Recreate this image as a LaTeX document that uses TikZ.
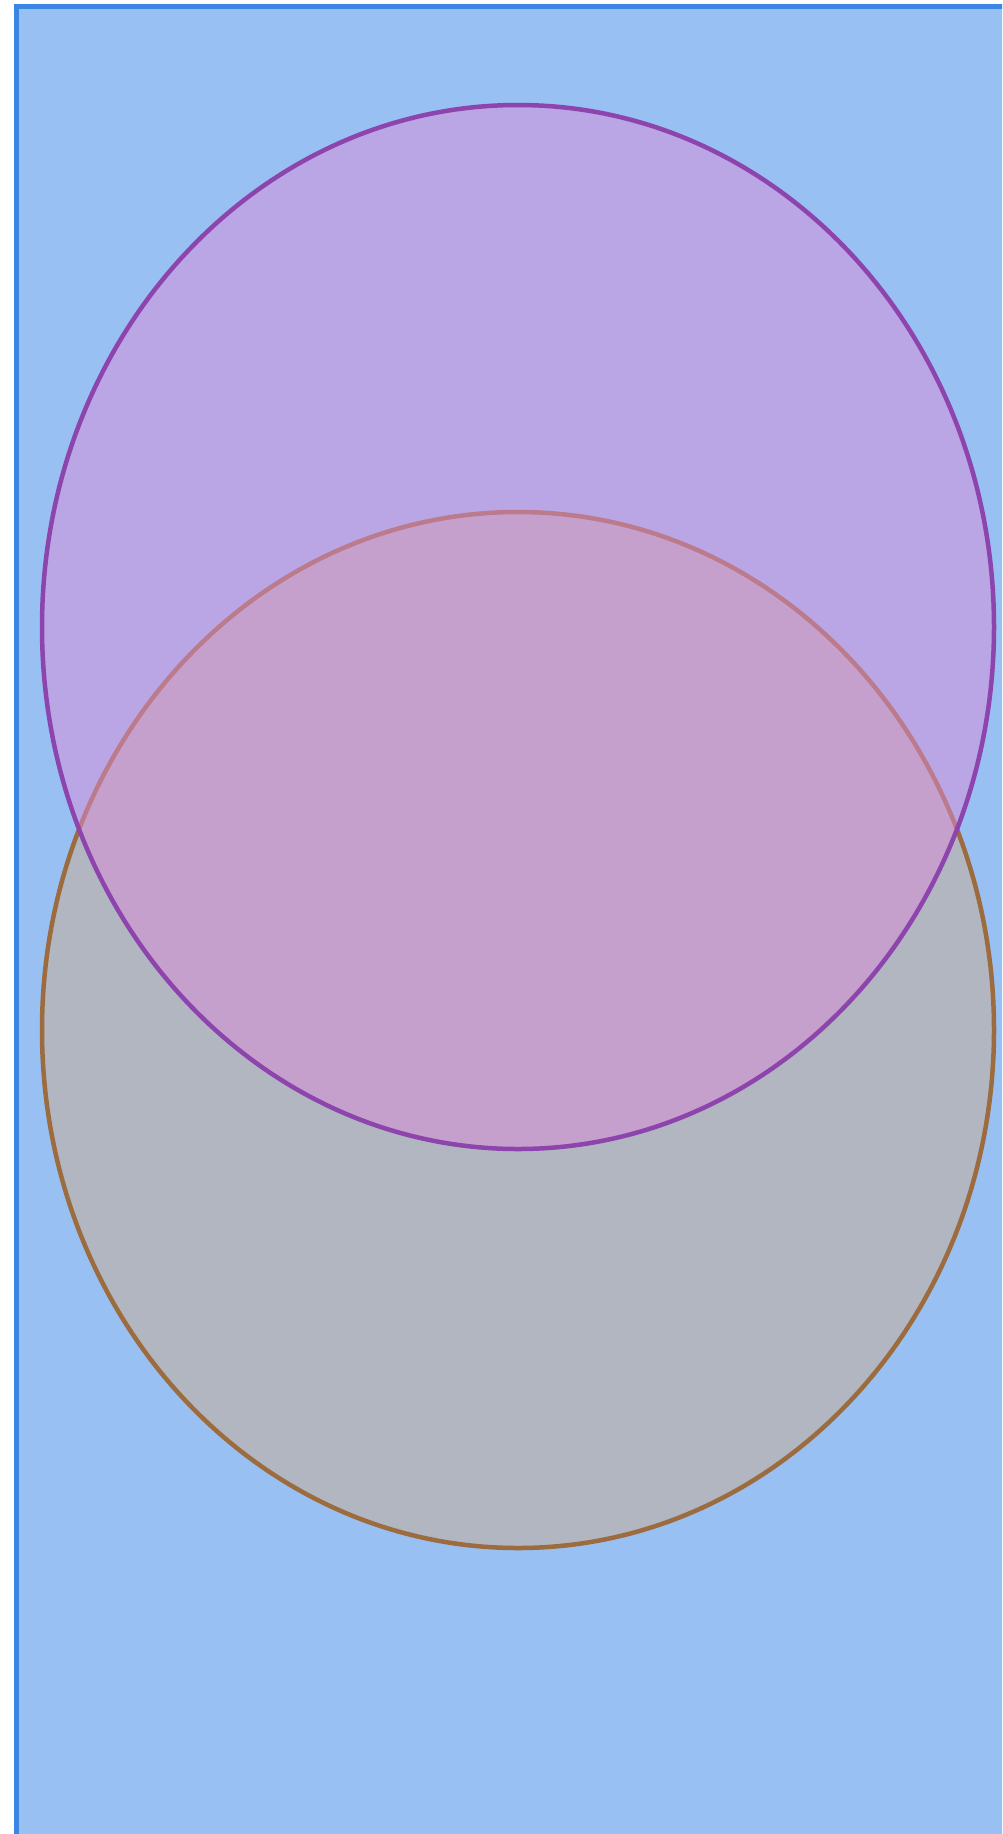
\documentclass[tikz,border=0pt]{standalone}
\usetikzlibrary{shapes.geometric}
\definecolor{rectfill}{RGB}{153,192,242}
\definecolor{rectline}{RGB}{59,134,227}
\definecolor{topfill}{RGB}{219,140,218}
\definecolor{topline}{RGB}{142,68,173}
\definecolor{botfill}{RGB}{178,182,193}
\definecolor{botline}{RGB}{156,107,62}
\tikzset{
  region/.style={line width=5pt, draw=rectline, fill=rectfill},
  lowerset/.style={line width=4.5pt, draw=botline, fill=botfill},
  upperset/.style={line width=4.5pt, draw=topline, fill=topfill, fill opacity=0.5},
}
\begin{document}
\begin{tikzpicture}[x=1pt,y=-1pt]
\useasboundingbox (0,0) rectangle (1002,1834);
\clip (0,0) rectangle (1002,1834);
\draw[region] (16.5,6.5) rectangle (1020,1850);
\draw[lowerset] (518,1030) ellipse [x radius=476, y radius=518];
\draw[upperset] (518,627) ellipse [x radius=476, y radius=522];
\end{tikzpicture}
\end{document}
